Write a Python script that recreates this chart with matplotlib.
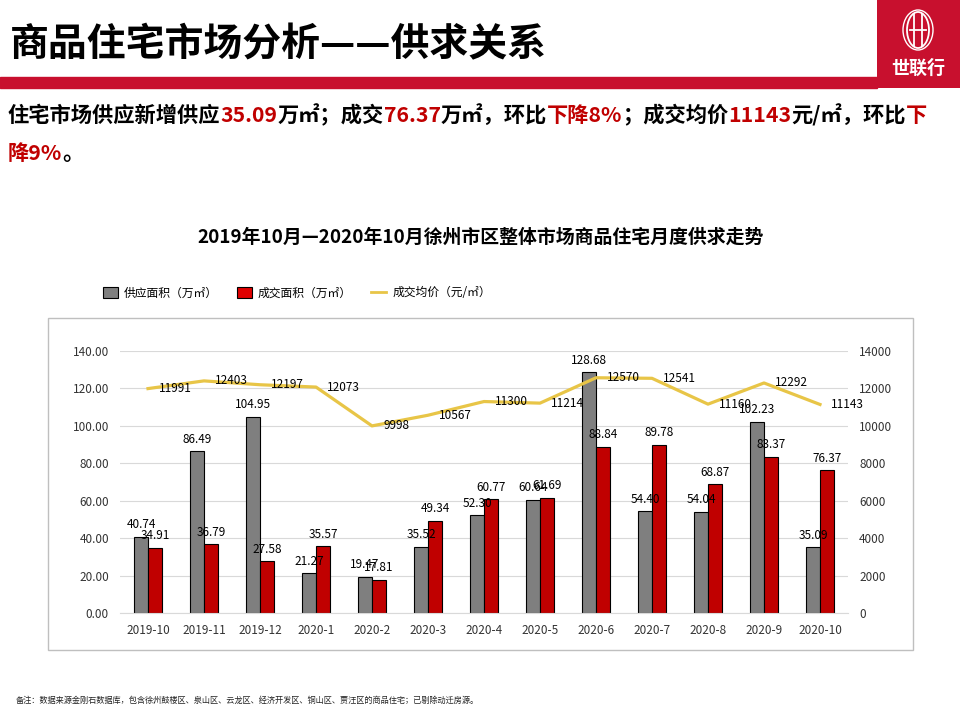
import matplotlib
matplotlib.use("Agg")
import matplotlib.pyplot as plt
import numpy as np
from matplotlib.patches import Rectangle, Ellipse, Patch
from matplotlib.lines import Line2D

plt.rcParams['font.family'] = ['Noto Sans CJK SC', 'DejaVu Sans']

# data
months = ['2019-10', '2019-11', '2019-12', '2020-1', '2020-2', '2020-3', '2020-4',
          '2020-5', '2020-6', '2020-7', '2020-8', '2020-9', '2020-10']
supply = [40.74, 86.49, 104.95, 21.27, 19.47, 35.52, 52.30, 60.64, 128.68, 54.40, 54.04, 102.23, 35.09]
deal = [34.91, 36.79, 27.58, 35.57, 17.81, 49.34, 60.77, 61.69, 88.84, 89.78, 68.87, 83.37, 76.37]
price = [11991, 12403, 12197, 12073, 9998, 10567, 11300, 11214, 12570, 12541, 11160, 12292, 11143]

RED = '#C00000'
GRAY = '#7F7F7F'
GOLD = '#E8C547'

fig = plt.figure(figsize=(9.6, 7.2), dpi=100)
W, H = 960, 720


def fx(px):
    return px / W


def fy(py):
    return 1 - py / H


# header band and logo
fig.patches.append(Rectangle((0, fy(88)), fx(877), 11 / H, transform=fig.transFigure,
                             color='#C8102E', zorder=1))
fig.text(fx(10), fy(45), '商品住宅市场分析——供求关系', fontsize=28, fontweight='bold',
         va='center', ha='left')

logo = fig.add_axes([fx(877), fy(88), fx(83), 88 / H])
logo.set_facecolor('#C8102E')
logo.set_xlim(0, 83)
logo.set_ylim(88, 0)
logo.set_xticks([])
logo.set_yticks([])
for s in logo.spines.values():
    s.set_visible(False)
logo.add_patch(Ellipse((41, 30), 22, 36, fill=False, ec='white', lw=1.3))
logo.add_patch(Ellipse((41, 30), 30, 40, fill=False, ec='white', lw=1.0))
for xv in (37, 45):
    logo.plot([xv, xv], [14, 46], color='white', lw=1.3)
logo.plot([33, 49], [30, 30], color='white', lw=1.3)
logo.text(41, 68, '世联行', color='white', fontsize=13, ha='center', va='center', fontweight='bold')

# summary text in coloured pieces
renderer = fig.canvas.get_renderer()


def draw_pieces(pieces, x0, ypx, size):
    x = fx(x0)
    for txt, col in pieces:
        t = fig.text(x, fy(ypx), txt, color=col, fontsize=size, fontweight='bold',
                     va='center', ha='left')
        bb = t.get_window_extent(renderer=renderer)
        x += bb.width / W


line1 = [('住宅市场供应新增供应', 'black'), ('35.09', RED), ('万㎡；成交', 'black'),
         ('76.37', RED), ('万㎡，环比', 'black'), ('下降8%', RED), ('；成交均价', 'black'),
         ('11143', RED), ('元/㎡，环比', 'black'), ('下', RED)]
line2 = [('降9%', RED), ('。', 'black')]
draw_pieces(line1, 8, 115, 15.3)
draw_pieces(line2, 8, 153, 15.3)

# chart title
fig.text(fx(481), fy(237), '2019年10月—2020年10月徐州市区整体市场商品住宅月度供求走势',
         fontsize=13.6, fontweight='bold', ha='center', va='center')

# legend
handles = [Patch(facecolor=GRAY, edgecolor='black', lw=0.8, label='供应面积（万㎡）'),
           Patch(facecolor='#E00000', edgecolor='black', lw=0.8, label='成交面积（万㎡）'),
           Line2D([0], [0], color=GOLD, lw=2, label='成交均价（元/㎡）')]
fig.legend(handles=handles, loc='center left', bbox_to_anchor=(fx(92), fy(293)), ncol=3,
           frameon=False, fontsize=8.5, handlelength=1.3, handleheight=1.1, columnspacing=1.6,
           handletextpad=0.5)

# chart frame
fig.patches.append(Rectangle((fx(48), fy(650)), fx(913 - 48), (650 - 318) / H,
                             transform=fig.transFigure, fill=False, ec='#BFBFBF', lw=1, zorder=0))

ax = fig.add_axes([fx(120), fy(613), fx(848 - 120), (613 - 351) / H])
x = np.arange(len(months))
bw = 0.25
b1 = ax.bar(x - bw / 2, supply, bw, color=GRAY, edgecolor='black', lw=0.8, zorder=2)
b2 = ax.bar(x + bw / 2, deal, bw, color=RED, edgecolor='black', lw=0.8, zorder=2)
for rect, v in zip(b1, supply):
    ax.annotate(f'{v:.2f}', (rect.get_x() + rect.get_width() / 2, v), xytext=(0, 4),
                textcoords='offset points', ha='center', va='bottom', fontsize=8.5, zorder=5)
for rect, v in zip(b2, deal):
    ax.annotate(f'{v:.2f}', (rect.get_x() + rect.get_width() / 2, v), xytext=(0, 4),
                textcoords='offset points', ha='center', va='bottom', fontsize=8.5, zorder=5)

ax.set_ylim(0, 140)
ax.set_yticks(np.arange(0, 141, 20))
ax.set_yticklabels([f'{v:.2f}' for v in np.arange(0, 141, 20)])
ax.set_xlim(-0.5, len(months) - 0.5)
ax.set_xticks(x)
ax.set_xticklabels(months)
ax.grid(axis='y', color='#D9D9D9', lw=0.8, zorder=0)
ax.tick_params(length=0, labelsize=8.5, colors='#333333', pad=8)
for s in ['top', 'right', 'left']:
    ax.spines[s].set_visible(False)
ax.spines['bottom'].set_color('#D9D9D9')
ax.set_facecolor('none')

ax2 = ax.twinx()
ax2.plot(x, price, color=GOLD, lw=2.3, zorder=3)
for xi, v in zip(x, price):
    ax2.annotate(str(v), (xi, v), xytext=(8, 0), textcoords='offset points',
                 ha='left', va='center', fontsize=8.5, zorder=5)
ax2.set_ylim(0, 14000)
ax2.set_yticks(np.arange(0, 14001, 2000))
ax2.tick_params(length=0, labelsize=8.5, colors='#333333', pad=8)
for s in ax2.spines.values():
    s.set_visible(False)

# footnote
fig.text(fx(16), fy(700), '备注：数据来源金刚石数据库，包含徐州鼓楼区、泉山区、云龙区、经济开发区、铜山区、贾汪区的商品住宅；已剔除动迁房源。',
         fontsize=5.9, ha='left', va='center', color='#222222')

fig.savefig('out.png', dpi=100)
